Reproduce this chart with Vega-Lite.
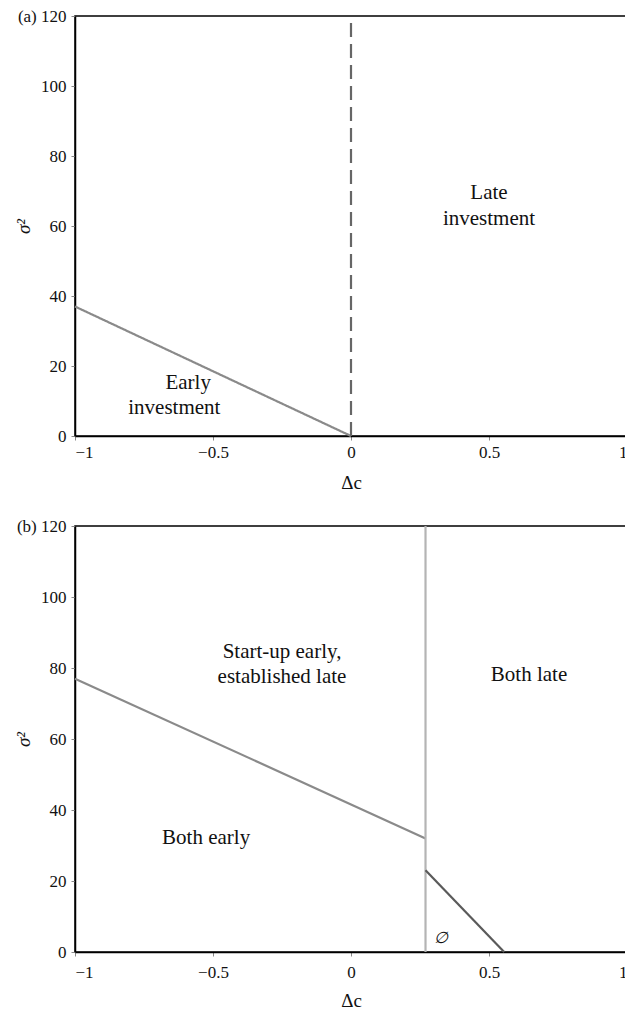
{
  "$schema": "https://vega.github.io/schema/vega-lite/v6.json",
  "padding": {"left": 12, "top": 6, "right": 0, "bottom": 0},
  "autosize": {"type": "pad"},
  "spacing": 23,
  "resolve": {"scale": {"color": "independent", "strokeDash": "independent"}},
  "config": {
    "font": "'Liberation Serif', 'Times New Roman', 'DejaVu Serif', serif",
    "view": {"stroke": "black", "strokeWidth": 1.5},
    "axis": {
      "grid": false,
      "domainColor": "black",
      "domainWidth": 1.5,
      "tickColor": "#888",
      "tickSize": 4,
      "labelFont": "'Liberation Serif', 'Times New Roman', 'DejaVu Serif', serif",
      "labelFontSize": 17,
      "labelColor": "#111",
      "titleFont": "'Liberation Serif', 'Times New Roman', 'DejaVu Serif', serif",
      "titleFontSize": 19,
      "titleFontWeight": "normal",
      "titleColor": "#111"
    },
    "text": {"font": "'Liberation Serif', 'Times New Roman', 'DejaVu Serif', serif", "fontSize": 21, "color": "#111"}
  },
  "datasets": {
    "segA": [
      {"series": "early", "x": -1, "y": 37, "x2": 0, "y2": 0},
      {"series": "divide", "x": 0, "y": 0, "x2": 0, "y2": 120}
    ],
    "textA": [
      {"label": "Late", "x": 0.5, "y": 69.4},
      {"label": "investment", "x": 0.5, "y": 62},
      {"label": "Early", "x": -0.59, "y": 15.1},
      {"label": "investment", "x": -0.64, "y": 8}
    ],
    "segB": [
      {"series": "upper", "x": -1, "y": 77, "x2": 0.27, "y2": 32},
      {"series": "vertical", "x": 0.27, "y": 0, "x2": 0.27, "y2": 120},
      {"series": "diag", "x": 0.27, "y": 23, "x2": 0.555, "y2": 0}
    ],
    "textB": [
      {"label": "Start-up early,", "x": -0.25, "y": 84.5},
      {"label": "established late", "x": -0.25, "y": 77.5},
      {"label": "Both late", "x": 0.645, "y": 78},
      {"label": "Both early", "x": -0.525, "y": 32}
    ],
    "emptyB": [
      {"label": "∅", "x": 0.325, "y": 3.9}
    ]
  },
  "vconcat": [
    {
      "width": 552,
      "height": 420,
      "layer": [
        {
          "data": {"name": "segA"},
          "mark": {"type": "rule", "strokeWidth": 2.2},
          "encoding": {
            "x": {"field": "x", "type": "quantitative", "scale": {"domain": [-1, 1], "nice": false},
              "axis": {"values": [-1, -0.5, 0, 0.5, 1], "format": "~g", "title": "Δc", "labelPadding": 4, "titlePadding": 13}},
            "y": {"field": "y", "type": "quantitative", "scale": {"domain": [0, 120], "nice": false},
              "axis": {"values": [0, 20, 40, 60, 80, 100, 120], "labelExpr": "datum.value == 120 ? '(a)  120' : datum.label", "title": "σ²", "titleFontStyle": "italic", "titleX": -52, "titleAlign": "center", "titleBaseline": "middle", "labelPadding": 5}},
            "x2": {"field": "x2"},
            "y2": {"field": "y2"},
            "color": {"field": "series", "type": "nominal", "legend": null,
              "scale": {"domain": ["early", "divide"], "range": ["#8a8a8a", "#666666"]}},
            "strokeDash": {"field": "series", "type": "nominal", "legend": null,
              "scale": {"domain": ["early", "divide"], "range": [[1, 0], [14, 7]]}}
          }
        },
        {
          "data": {"name": "textA"},
          "mark": {"type": "text", "align": "center", "baseline": "middle"},
          "encoding": {
            "x": {"field": "x", "type": "quantitative"},
            "y": {"field": "y", "type": "quantitative"},
            "text": {"field": "label"}
          }
        }
      ]
    },
    {
      "width": 552,
      "height": 426,
      "layer": [
        {
          "data": {"name": "segB"},
          "mark": {"type": "rule", "strokeWidth": 2.2},
          "encoding": {
            "x": {"field": "x", "type": "quantitative", "scale": {"domain": [-1, 1], "nice": false},
              "axis": {"values": [-1, -0.5, 0, 0.5, 1], "format": "~g", "title": "Δc", "labelPadding": 8, "titlePadding": 11}},
            "y": {"field": "y", "type": "quantitative", "scale": {"domain": [0, 120], "nice": false},
              "axis": {"values": [0, 20, 40, 60, 80, 100, 120], "labelExpr": "datum.value == 120 ? '(b) 120' : datum.label", "title": "σ²", "titleFontStyle": "italic", "titleX": -52, "titleAlign": "center", "titleBaseline": "middle", "labelPadding": 5}},
            "x2": {"field": "x2"},
            "y2": {"field": "y2"},
            "color": {"field": "series", "type": "nominal", "legend": null,
              "scale": {"domain": ["upper", "vertical", "diag"], "range": ["#8a8a8a", "#b4b4b4", "#5a5a5a"]}}
          }
        },
        {
          "data": {"name": "textB"},
          "mark": {"type": "text", "align": "center", "baseline": "middle"},
          "encoding": {
            "x": {"field": "x", "type": "quantitative"},
            "y": {"field": "y", "type": "quantitative"},
            "text": {"field": "label"}
          }
        },
        {
          "data": {"name": "emptyB"},
          "mark": {"type": "text", "align": "center", "baseline": "middle", "fontSize": 16, "fontStyle": "italic"},
          "encoding": {
            "x": {"field": "x", "type": "quantitative"},
            "y": {"field": "y", "type": "quantitative"},
            "text": {"field": "label"}
          }
        }
      ]
    }
  ]
}
